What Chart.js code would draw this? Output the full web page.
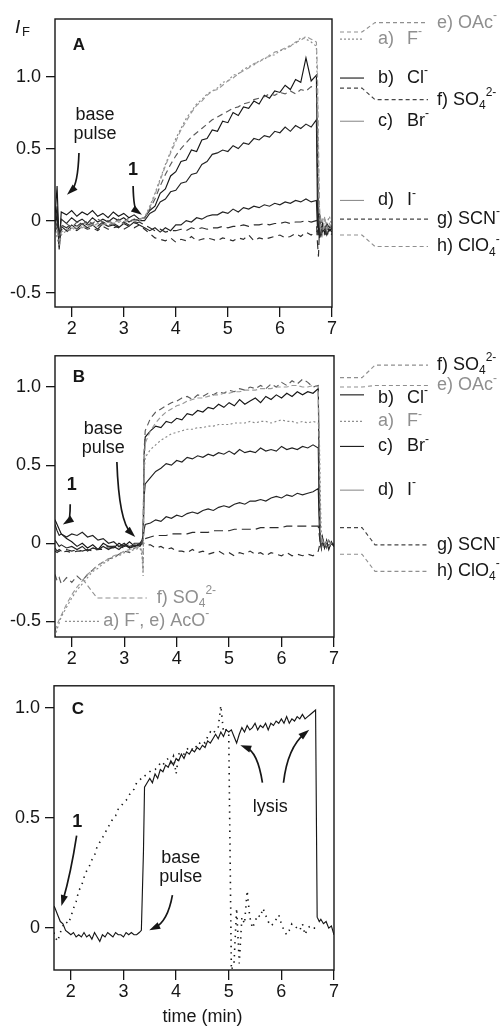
<!DOCTYPE html>
<html>
<head>
<meta charset="utf-8">
<script src="https://cdn.jsdelivr.net/npm/chart.js@4"></script>
<style>
  html, body { margin: 0; padding: 0; background: #fff; }
  #wrap { position: relative; width: 503px; height: 1026px; overflow: hidden; }
  canvas { position: absolute; left: 0; }
</style>
</head>
<body>
<div id="wrap">
  <canvas id="chartA" width="503" height="340" style="top:0px"></canvas>
  <canvas id="chartB" width="503" height="330" style="top:340px"></canvas>
  <canvas id="chartC" width="503" height="356" style="top:670px"></canvas>
</div>
<script>
// ---- axis ticks ----
const X_TICKS = [2, 3, 4, 5, 6, 7];
const Y_TICKS_AB = [-0.5, 0, 0.5, 1.0];
const Y_TICKS_C = [0, 0.5, 1.0];
const Y_TICK_TEXT = { '-0.5': '-0.5', '0': '0', '0.5': '0.5', '1': '1.0' };

// ---- panel A (time in min, I_F) ----
const A_T = [
  1.68, 1.72, 1.76,
  1.8, 1.9, 2.0, 2.1, 2.2, 2.3, 2.4, 2.5, 2.6, 2.7,
  2.8, 2.9, 3.0, 3.1, 3.2, 3.3, 3.4, 3.5, 3.6, 3.7,
  3.8, 3.9, 4.0, 4.1, 4.2, 4.3, 4.4, 4.5, 4.6, 4.7,
  4.8, 4.9, 5.0, 5.1, 5.2, 5.3, 5.4, 5.5, 5.6, 5.7,
  5.8, 5.9, 6.0, 6.1, 6.2, 6.3, 6.4, 6.5, 6.6, 6.7,
  6.72, 6.74, 6.76, 6.78, 6.82, 6.86, 6.9, 6.95, 7.0,
];
const A_F = [
  -0.04, -0.12, -0.18,
  -0.10, -0.07, -0.05, -0.06, -0.04, -0.05, -0.03, -0.04, -0.02, -0.03,
  -0.02, -0.01, -0.02, 0.00, -0.01, 0.00, 0.02, 0.10, 0.19, 0.29,
  0.39, 0.48, 0.57, 0.64, 0.71, 0.76, 0.81, 0.84, 0.88, 0.90,
  0.92, 0.96, 0.97, 1.01, 1.02, 1.05, 1.07, 1.08, 1.11, 1.12,
  1.15, 1.15, 1.18, 1.19, 1.22, 1.23, 1.27, 1.26, 1.24, 1.21,
  0.90, 0.40, 0.05, -0.06, 0.02, -0.05, -0.02, 0.03, -0.04,
];
const A_OAC = [
  -0.02, -0.08, -0.14,
  -0.08, -0.06, -0.07, -0.04, -0.05, -0.03, -0.04, -0.02, -0.03, -0.01,
  -0.02, 0.00, -0.01, 0.01, 0.00, 0.01, 0.02, 0.09, 0.18, 0.28,
  0.38, 0.47, 0.55, 0.63, 0.69, 0.75, 0.80, 0.83, 0.87, 0.90,
  0.91, 0.94, 0.97, 0.99, 1.02, 1.04, 1.06, 1.09, 1.10, 1.13,
  1.14, 1.17, 1.18, 1.20, 1.21, 1.24, 1.25, 1.28, 1.26, 1.24,
  1.05, 0.55, 0.10, -0.04, -0.10, 0.03, -0.06, -0.02, -0.05,
];
const A_CL = [
  0.02, 0.24, -0.18,
  0.06, 0.04, 0.07, 0.03, 0.06, 0.04, 0.07, 0.03, 0.05, 0.02,
  0.06, 0.03, 0.05, 0.02, 0.04, 0.01, 0.02, 0.07, 0.10, 0.19,
  0.22, 0.31, 0.34, 0.41, 0.42, 0.49, 0.48, 0.56, 0.57, 0.63,
  0.62, 0.69, 0.68, 0.75, 0.73, 0.79, 0.78, 0.83, 0.81, 0.87,
  0.85, 0.90, 0.89, 0.94, 0.91, 0.98, 0.96, 1.13, 0.97, 1.01,
  0.40, -0.10, 0.05, -0.08, -0.02, -0.09, -0.04, -0.07, -0.05,
];
const A_SO4 = [
  0.00, -0.05, -0.10,
  -0.04, -0.02, -0.05, -0.01, -0.03, 0.00, -0.02, 0.01, -0.01, 0.00,
  -0.02, 0.01, -0.01, 0.02, 0.00, 0.01, 0.02, 0.08, 0.15, 0.24,
  0.32, 0.39, 0.45, 0.50, 0.54, 0.58, 0.61, 0.64, 0.67, 0.70,
  0.72, 0.74, 0.76, 0.78, 0.79, 0.81, 0.82, 0.84, 0.85, 0.86,
  0.88, 0.87, 0.89, 0.88, 0.90, 0.88, 0.91, 0.90, 0.93, 0.92,
  0.60, 0.10, -0.05, 0.02, -0.06, -0.03, -0.08, -0.04, -0.06,
];
const A_BR = [
  -0.03, 0.10, -0.12,
  0.01, -0.02, 0.02, -0.01, 0.01, -0.02, 0.02, -0.01, 0.01, -0.01,
  0.02, 0.00, 0.02, -0.01, 0.01, 0.00, 0.00, 0.05, 0.07, 0.13,
  0.15, 0.20, 0.21, 0.26, 0.27, 0.32, 0.33, 0.39, 0.41, 0.46,
  0.47, 0.49, 0.48, 0.52, 0.50, 0.54, 0.53, 0.57, 0.56, 0.59,
  0.58, 0.62, 0.61, 0.65, 0.62, 0.66, 0.64, 0.67, 0.65, 0.70,
  0.10, -0.05, 0.02, -0.07, -0.03, -0.06, -0.02, -0.05, -0.04,
];
const A_I = [
  -0.06, 0.05, -0.20,
  -0.04, -0.07, -0.03, -0.06, -0.02, -0.05, -0.03, -0.06, -0.02, -0.04,
  -0.03, -0.05, -0.02, -0.04, -0.01, -0.03, -0.05, -0.07, -0.05, -0.08,
  -0.05, -0.07, -0.03, -0.03, 0.00, -0.01, 0.02, 0.01, 0.03, 0.04,
  0.04, 0.06, 0.05, 0.08, 0.06, 0.09, 0.08, 0.10, 0.09, 0.11,
  0.10, 0.12, 0.11, 0.13, 0.12, 0.14, 0.13, 0.15, 0.13, 0.14,
  -0.05, 0.05, -0.12, -0.03, -0.08, -0.05, -0.10, -0.06, -0.08,
];
const A_SCN = [
  -0.05, -0.02, -0.10,
  -0.03, -0.05, -0.02, -0.04, -0.01, -0.03, -0.02, -0.04, -0.01, -0.03,
  -0.02, -0.04, -0.01, -0.03, -0.02, -0.01, -0.03, -0.05, -0.07, -0.06,
  -0.08, -0.07, -0.07, -0.06, -0.07, -0.05, -0.06, -0.05, -0.06, -0.05,
  -0.05, -0.04, -0.05, -0.04, -0.04, -0.03, -0.04, -0.03, -0.03, -0.02,
  -0.03, -0.02, -0.02, -0.01, -0.02, -0.01, -0.01, 0.00, -0.01, 0.00,
  -0.15, -0.25, -0.05, -0.12, -0.06, -0.09, -0.05, -0.08, -0.06,
];
const A_CLO4 = [
  -0.08, -0.04, -0.12,
  -0.06, -0.08, -0.05, -0.07, -0.04, -0.06, -0.05, -0.07, -0.04, -0.06,
  -0.05, -0.04, -0.06, -0.04, -0.05, -0.03, -0.06, -0.09, -0.12, -0.13,
  -0.14, -0.12, -0.15, -0.13, -0.14, -0.11, -0.14, -0.13, -0.12, -0.13,
  -0.14, -0.12, -0.13, -0.14, -0.12, -0.13, -0.10, -0.14, -0.12, -0.13,
  -0.12, -0.11, -0.10, -0.12, -0.11, -0.09, -0.11, -0.08, -0.10, -0.08,
  -0.07, -0.12, -0.06, -0.10, -0.07, -0.10, -0.08, -0.11, -0.09,
];

// ---- panel B ----
const B_T = [
  1.68, 1.72, 1.76,
  1.8, 1.9, 2.0, 2.1, 2.2, 2.3, 2.4, 2.5, 2.6, 2.7,
  2.8, 2.9, 3.0, 3.1, 3.2, 3.3, 3.34, 3.36, 3.38, 3.4,
  3.5, 3.6, 3.7, 3.8, 3.9, 4.0, 4.1, 4.2, 4.3, 4.4,
  4.5, 4.6, 4.7, 4.8, 4.9, 5.0, 5.1, 5.2, 5.3, 5.4,
  5.5, 5.6, 5.7, 5.8, 5.9, 6.0, 6.1, 6.2, 6.3, 6.4,
  6.5, 6.6, 6.7, 6.72, 6.74, 6.76, 6.78, 6.82, 6.86, 6.9, 6.95, 7.0,
];
const B_F = [
  -0.60, -0.55, -0.51,
  -0.47, -0.41, -0.35, -0.30, -0.26, -0.22, -0.18, -0.16, -0.13, -0.11,
  -0.09, -0.08, -0.06, -0.05, -0.04, -0.03, -0.08, -0.21, 0.45, 0.55,
  0.60, 0.63, 0.66, 0.68, 0.70, 0.71, 0.72, 0.73, 0.73, 0.74,
  0.74, 0.75, 0.75, 0.76, 0.76, 0.76, 0.77, 0.77, 0.77, 0.78,
  0.77, 0.78, 0.78, 0.77, 0.78, 0.79, 0.78, 0.78, 0.77, 0.78,
  0.77, 0.78, 0.77, 0.70, 0.30, 0.02, 0.00, 0.01, -0.01, 0.02, 0.00, -0.01,
];
const B_OAC = [
  -0.56, -0.52, -0.49,
  -0.46, -0.39, -0.33, -0.28, -0.24, -0.20, -0.17, -0.14, -0.12, -0.10,
  -0.08, -0.07, -0.05, -0.04, -0.03, -0.02, -0.05, -0.18, 0.50, 0.64,
  0.72, 0.77, 0.81, 0.84, 0.86, 0.88, 0.89, 0.91, 0.92, 0.93,
  0.93, 0.94, 0.95, 0.95, 0.96, 0.96, 0.97, 0.97, 0.98, 0.98,
  0.98, 0.99, 0.99, 0.99, 1.00, 1.00, 1.00, 1.01, 1.01, 1.00,
  1.00, 1.01, 1.00, 0.60, 0.10, 0.00, 0.02, -0.01, 0.01, -0.02, 0.00, -0.01,
];
const B_CL = [
  0.15, 0.12, 0.09,
  0.06, 0.03, 0.01, -0.02, 0.00, -0.03, -0.01, -0.04, 0.00, -0.02,
  -0.03, 0.00, -0.02, 0.01, -0.02, 0.00, 0.02, 0.05, 0.55, 0.68,
  0.72, 0.75, 0.74, 0.78, 0.77, 0.80, 0.79, 0.83, 0.82, 0.85,
  0.84, 0.87, 0.86, 0.89, 0.87, 0.90, 0.88, 0.92, 0.89, 0.91,
  0.93, 0.90, 0.94, 0.92, 0.95, 0.93, 0.96, 0.94, 0.97, 0.95,
  0.97, 0.96, 0.99, 0.30, 0.03, -0.02, 0.04, -0.03, 0.02, -0.04, 0.01, -0.02,
];
const B_SO4 = [
  -0.20, -0.24, -0.22,
  -0.26, -0.22, -0.25, -0.21, -0.24, -0.20, -0.17, -0.14, -0.12, -0.10,
  -0.09, -0.07, -0.05, -0.06, -0.03, -0.02, -0.01, 0.10, 0.60, 0.72,
  0.80, 0.84, 0.86, 0.88, 0.90, 0.91, 0.93, 0.94, 0.92, 0.95,
  0.94, 0.96, 0.95, 0.97, 0.96, 0.98, 0.97, 0.99, 0.98, 1.00,
  0.99, 1.01, 0.99, 1.02, 1.00, 1.03, 1.01, 1.04, 1.02, 1.05,
  1.03, 1.00, 1.01, 0.40, 0.05, -0.02, 0.03, 0.00, -0.03, 0.02, -0.01, 0.00,
];
const B_BR = [
  0.12, 0.08, 0.05,
  0.06, 0.04, 0.06, 0.05, 0.07, 0.04, 0.05, 0.02, 0.03, 0.00,
  0.01, -0.02, 0.00, -0.03, -0.01, -0.02, 0.00, 0.03, 0.30, 0.38,
  0.42, 0.46, 0.48, 0.51, 0.50, 0.53, 0.52, 0.55, 0.54, 0.56,
  0.55, 0.57, 0.56, 0.58, 0.57, 0.59, 0.57, 0.60, 0.58, 0.59,
  0.58, 0.61, 0.59, 0.60, 0.59, 0.62, 0.60, 0.61, 0.60, 0.62,
  0.61, 0.63, 0.61, 0.20, 0.02, -0.03, 0.03, -0.02, 0.01, -0.03, 0.00, -0.02,
];
const B_I = [
  0.02, 0.00, -0.02,
  -0.01, -0.03, -0.02, -0.04, -0.02, -0.05, -0.03, -0.04, -0.02, -0.04,
  -0.02, -0.04, -0.01, -0.03, -0.02, -0.01, 0.00, 0.02, 0.09, 0.12,
  0.13, 0.15, 0.14, 0.17, 0.16, 0.18, 0.17, 0.19, 0.20, 0.19,
  0.21, 0.22, 0.21, 0.23, 0.24, 0.23, 0.25, 0.26, 0.25, 0.27,
  0.27, 0.28, 0.27, 0.29, 0.30, 0.29, 0.31, 0.30, 0.32, 0.31,
  0.32, 0.33, 0.35, 0.10, 0.00, -0.03, 0.02, -0.02, 0.01, -0.03, 0.00, -0.01,
];
const B_SCN = [
  -0.03, -0.05, -0.04,
  -0.05, -0.04, -0.05, -0.04, -0.05, -0.04, -0.03, -0.04, -0.03, -0.02,
  -0.02, -0.01, -0.02, -0.01, 0.00, 0.00, 0.01, 0.02, 0.03, 0.03,
  0.04, 0.05, 0.05, 0.05, 0.06, 0.06, 0.06, 0.06, 0.07, 0.07,
  0.07, 0.07, 0.08, 0.08, 0.08, 0.08, 0.09, 0.09, 0.09, 0.09,
  0.09, 0.10, 0.10, 0.10, 0.10, 0.10, 0.11, 0.11, 0.11, 0.11,
  0.11, 0.11, 0.11, 0.05, 0.00, -0.01, 0.01, -0.02, 0.00, -0.01, 0.00, -0.01,
];
const B_CLO4 = [
  -0.05, -0.06, -0.05,
  -0.06, -0.05, -0.06, -0.05, -0.05, -0.04, -0.05, -0.04, -0.04, -0.03,
  -0.03, -0.02, -0.03, -0.02, -0.01, -0.01, 0.00, 0.00, 0.00, -0.01,
  -0.01, -0.03, -0.02, -0.04, -0.03, -0.05, -0.05, -0.06, -0.04, -0.06,
  -0.05, -0.07, -0.06, -0.05, -0.07, -0.06, -0.08, -0.06, -0.07, -0.05,
  -0.07, -0.06, -0.08, -0.06, -0.07, -0.08, -0.06, -0.08, -0.07, -0.08,
  -0.07, -0.08, -0.05, -0.02, 0.01, -0.02, 0.00, -0.03, 0.01, -0.02, 0.00, -0.01,
];

// ---- panel C ----
const C_T = [
  1.68, 1.70, 1.75, 1.80, 1.85, 1.90, 1.95, 2.00, 2.05, 2.10,
  2.15, 2.20, 2.25, 2.30, 2.35, 2.40, 2.45, 2.50, 2.55, 2.60,
  2.65, 2.70, 2.75, 2.80, 2.85, 2.90, 2.95, 3.00, 3.05, 3.10,
  3.15, 3.20, 3.25, 3.30, 3.34, 3.38, 3.40, 3.45, 3.50, 3.55,
  3.60, 3.65, 3.70, 3.75, 3.80, 3.85, 3.90, 3.95, 4.00, 4.05,
  4.10, 4.15, 4.20, 4.25, 4.30, 4.35, 4.40, 4.45, 4.50, 4.55,
  4.60, 4.65, 4.70, 4.75, 4.80, 4.85, 4.90, 4.95, 5.00, 5.05,
  5.10, 5.15, 5.20, 5.25, 5.30, 5.35, 5.40, 5.45, 5.50, 5.55,
  5.60, 5.65, 5.70, 5.75, 5.80, 5.85, 5.90, 5.95, 6.00, 6.05,
  6.10, 6.15, 6.20, 6.25, 6.30, 6.35, 6.40, 6.45, 6.50, 6.55,
  6.60, 6.65, 6.68, 6.70, 6.72, 6.75, 6.80, 6.85, 6.90, 6.95,
  7.00,
];
const C_SOLID = [
  0.10, 0.09, 0.06, 0.03, 0.02, -0.01, -0.02, -0.03, -0.02, -0.04,
  -0.03, -0.04, -0.02, -0.04, -0.03, -0.05, -0.02, -0.04, -0.06, -0.03,
  -0.04, -0.02, -0.03, -0.04, -0.02, -0.03, -0.03, -0.04, -0.02, -0.03,
  -0.02, -0.03, -0.03, -0.02, -0.01, 0.35, 0.64, 0.66, 0.68, 0.66,
  0.70, 0.68, 0.72, 0.71, 0.74, 0.73, 0.76, 0.74, 0.77, 0.76,
  0.79, 0.77, 0.80, 0.79, 0.81, 0.80, 0.82, 0.81, 0.83, 0.82,
  0.85, 0.84, 0.86, 0.88, 0.86, 0.89, 0.87, 0.90, 0.89, 0.90,
  0.87, 0.84, 0.88, 0.91, 0.89, 0.92, 0.90, 0.91, 0.93, 0.90,
  0.92, 0.91, 0.93, 0.90, 0.93, 0.92, 0.94, 0.93, 0.95, 0.93,
  0.96, 0.93, 0.95, 0.94, 0.96, 0.95, 0.97, 0.95, 0.96, 0.97,
  0.98, 0.99, 0.05, 0.04, 0.03, 0.04, 0.02, 0.03, 0.00, 0.01,
  -0.03,
];
const C_DOTTED = [
  -0.02, -0.04, -0.06, -0.02, 0.01, 0.03, 0.02, 0.05, 0.09, 0.12,
  0.17, 0.19, 0.23, 0.26, 0.28, 0.31, 0.33, 0.37, 0.39, 0.41,
  0.43, 0.46, 0.47, 0.50, 0.51, 0.54, 0.55, 0.57, 0.58, 0.60,
  0.62, 0.63, 0.66, 0.67, 0.68, 0.68, 0.69, 0.70, 0.71, 0.72,
  0.72, 0.73, 0.75, 0.74, 0.76, 0.77, 0.75, 0.78, 0.70, 0.79,
  0.80, 0.79, 0.81, 0.82, 0.81, 0.83, 0.82, 0.84, 0.85, 0.84,
  0.87, 0.89, 0.88, 0.90, 0.91, 1.01, 0.89, 0.90, 0.88, -0.19,
  -0.16, 0.09, -0.16, 0.05, 0.02, 0.17, 0.05, 0.00, 0.03, 0.06,
  0.05, 0.09, 0.06, 0.03, 0.01, 0.02, 0.04, 0.06, 0.02, -0.01,
  -0.03, -0.01, 0.02, 0.01, 0.00, -0.01, 0.02, -0.03, 0.00, 0.01,
  0.00, 0.00, 0.01, null, null, null, null, null, null, null,
  null,
];

// ---- look ----
const FONT = '"Liberation Sans", Arial, Helvetica, sans-serif';
const INK = '#161616';
const GREY = '#8f8f8f';
const MID = '#454545';

const STYLE = {
  F:    { color: '#8a8a8a', dash: [2, 2.5] },
  OAc:  { color: '#9a9a9a', dash: [5, 3] },
  Cl:   { color: INK, dash: [] },
  SO4:  { color: '#5a5a5a', dash: [6, 4] },
  Br:   { color: '#222', dash: [] },
  I:    { color: '#222', dash: [] },
  SCN:  { color: '#2c2c2c', dash: [9, 5] },
  ClO4: { color: '#2c2c2c', dash: [6, 5] },
  solid:  { color: INK, dash: [] },
  dotted: { color: INK, dash: [1.4, 5], width: 1.6 },
};

Chart.defaults.font.family = FONT;
Chart.defaults.font.size = 18;
Chart.defaults.color = INK;

const SUP = t => ({ t, sup: true });
const SUB = t => ({ t, sub: true });

function text(ctx, x, y, s, font, color, align) {
  ctx.save();
  ctx.font = font; ctx.fillStyle = color;
  ctx.textAlign = align || 'left'; ctx.textBaseline = 'middle';
  ctx.fillText(s, x, y);
  ctx.restore();
}

// text with sub/superscripts, left aligned, vertically centred on y
function rich(ctx, x, y, parts, color, size) {
  ctx.save();
  ctx.fillStyle = color; ctx.textBaseline = 'middle'; ctx.textAlign = 'left';
  let cx = x;
  for (const p of parts) {
    const s = typeof p === 'string' ? { t: p } : p;
    const fs = (s.sub || s.sup) ? Math.round(size * 0.68) : size;
    const dy = s.sub ? size * 0.32 : s.sup ? -size * 0.4 : 0;
    ctx.font = fs + 'px ' + FONT;
    ctx.fillText(s.t, cx, y + dy);
    cx += ctx.measureText(s.t).width;
  }
  ctx.restore();
}

function path(ctx, pts, color, dash) {
  ctx.save();
  ctx.strokeStyle = color; ctx.lineWidth = 1.1; ctx.setLineDash(dash);
  ctx.beginPath();
  pts.forEach((p, i) => i ? ctx.lineTo(p[0], p[1]) : ctx.moveTo(p[0], p[1]));
  ctx.stroke();
  ctx.restore();
}

function arrow(ctx, x0, y0, cx, cy, x1, y1) {
  ctx.save();
  ctx.strokeStyle = INK; ctx.fillStyle = INK; ctx.lineWidth = 1.7;
  const a = Math.atan2(y1 - cy, x1 - cx);
  const L = 11, W = 3.6;
  ctx.beginPath(); ctx.moveTo(x0, y0);
  ctx.quadraticCurveTo(cx, cy, x1 - 6 * Math.cos(a), y1 - 6 * Math.sin(a));
  ctx.stroke();
  ctx.beginPath();
  ctx.moveTo(x1, y1);
  ctx.lineTo(x1 - L * Math.cos(a) + W * Math.sin(a), y1 - L * Math.sin(a) - W * Math.cos(a));
  ctx.lineTo(x1 - L * Math.cos(a) - W * Math.sin(a), y1 - L * Math.sin(a) + W * Math.cos(a));
  ctx.closePath(); ctx.fill();
  ctx.restore();
}

// right-hand key: a short stub, or a stub with an elbow leading to the label
function drawKey(ctx, Y, k) {
  const y0 = Y(k.line), y1 = Y(k.text);
  if (k.elbow) {
    path(ctx, [[340, y0], [362, y0], [375, y1], [428, y1]], k.color, k.dash);
    rich(ctx, 437, y1, k.parts, k.tc, 18);
  } else {
    path(ctx, [[340, y0], [364, y0]], k.color, k.dash);
    rich(ctx, 378, y1, [k.tag], k.tc, 18);
    rich(ctx, 407, y1, k.parts, k.tc, 18);
  }
}

function makeDecor(p) {
  return {
    id: 'decor' + p.letter,
    afterDraw(chart) {
      const ctx = chart.ctx;
      const a = chart.chartArea;
      const X = v => chart.scales.x.getPixelForValue(v);
      const Y = v => chart.scales.y.getPixelForValue(v);
      ctx.save();
      ctx.strokeStyle = INK; ctx.lineWidth = 1.4;
      ctx.strokeRect(a.left, a.top, a.right - a.left, a.bottom - a.top);
      ctx.restore();
      text(ctx, a.left + 24, a.top + p.letterDy, p.letter, 'bold 17px ' + FONT, INK, 'center');
      p.notes.forEach(n => text(ctx, X(n.x), Y(n.y), n.t, (n.bold ? 'bold ' : '') + '18px ' + FONT, INK, 'center'));
      p.arrows.forEach(r => arrow(ctx, X(r[0]), Y(r[1]), X(r[2]), Y(r[3]), X(r[4]), Y(r[5])));
      p.keys.forEach(k => drawKey(ctx, Y, k));
      if (p.extra) p.extra(ctx, X, Y, a);
    },
  };
}

function makePanel(id, p) {
  const datasets = p.series.map(s => ({
    data: p.T.map((t, i) => ({ x: t, y: s.vals[i] })),
    borderColor: s.st.color,
    borderDash: s.st.dash,
    borderWidth: s.st.width || 1.15,
    pointRadius: 0,
    tension: 0,
    fill: false,
  }));
  const tickGrid = len => ({ drawOnChartArea: false, drawTicks: true, tickLength: len, color: INK, lineWidth: 1.3 });
  return new Chart(document.getElementById(id), {
    type: 'line',
    data: { datasets },
    plugins: [makeDecor(p)],
    options: {
      responsive: false,
      animation: false,
      devicePixelRatio: 1,
      events: [],
      layout: { padding: { top: p.padTop, right: p.padRight, left: 0, bottom: 0 } },
      plugins: { legend: { display: false }, tooltip: { enabled: false } },
      scales: {
        x: {
          type: 'linear', min: 1.68, max: 7,
          afterBuildTicks: s => { s.ticks = X_TICKS.map(v => ({ value: v })); },
          afterFit: s => { s.height = p.xHeight; },
          grid: tickGrid(10),
          border: { display: false },
          ticks: { padding: 1, maxRotation: 0, autoSkip: false, color: INK, font: { size: 18 }, callback: v => String(v) },
        },
        y: {
          type: 'linear', min: p.yMin, max: p.yMax,
          afterBuildTicks: s => { s.ticks = p.yTicks.map(v => ({ value: v })); },
          afterFit: s => { s.width = p.yWidth; },
          grid: tickGrid(9),
          border: { display: false },
          ticks: { padding: 5, autoSkip: false, color: INK, font: { size: 18 }, callback: v => Y_TICK_TEXT[String(v)] },
        },
      },
    },
  });
}

const OAC_TXT = ['e) OAc', SUP('-')];
const SO4_TXT = ['f) SO', SUB('4'), SUP('2-')];
const SCN_TXT = ['g) SCN', SUP('-')];
const CLO4_TXT = ['h) ClO', SUB('4'), SUP('-')];

makePanel('chartA', {
  letter: 'A', letterDy: 26,
  T: A_T,
  series: [
    { vals: A_OAC, st: STYLE.OAc }, { vals: A_F, st: STYLE.F },
    { vals: A_SO4, st: STYLE.SO4 }, { vals: A_CLO4, st: STYLE.ClO4 },
    { vals: A_SCN, st: STYLE.SCN }, { vals: A_I, st: STYLE.I },
    { vals: A_BR, st: STYLE.Br }, { vals: A_CL, st: STYLE.Cl },
  ],
  yMin: -0.6, yMax: 1.4, yTicks: Y_TICKS_AB,
  padTop: 19, padRight: 171, yWidth: 55, xHeight: 33,
  notes: [
    { t: 'base', x: 2.45, y: 0.73 }, { t: 'pulse', x: 2.45, y: 0.60 },
    { t: '1', x: 3.18, y: 0.35, bold: true },
  ],
  arrows: [
    [2.14, 0.47, 2.12, 0.25, 1.91, 0.18],
    [3.18, 0.24, 3.19, 0.08, 3.35, 0.04],
  ],
  keys: [
    { line: 1.31, text: 1.375, elbow: true, parts: OAC_TXT, color: GREY, tc: GREY, dash: [4, 3] },
    { line: 1.26, text: 1.26, tag: 'a)', parts: ['F', SUP('-')], color: GREY, tc: GREY, dash: [2, 2] },
    { line: 0.99, text: 0.99, tag: 'b)', parts: ['Cl', SUP('-')], color: INK, tc: INK, dash: [] },
    { line: 0.92, text: 0.84, elbow: true, parts: SO4_TXT, color: MID, tc: INK, dash: [4, 3] },
    { line: 0.69, text: 0.69, tag: 'c)', parts: ['Br', SUP('-')], color: GREY, tc: INK, dash: [] },
    { line: 0.14, text: 0.14, tag: 'd)', parts: ['I', SUP('-')], color: GREY, tc: INK, dash: [] },
    { line: 0.01, text: 0.01, elbow: true, parts: SCN_TXT, color: MID, tc: INK, dash: [4, 3] },
    { line: -0.10, text: -0.18, elbow: true, parts: CLO4_TXT, color: GREY, tc: INK, dash: [4, 3] },
  ],
  extra(ctx) {
    text(ctx, 15, 28, 'I', 'italic 19px ' + FONT, INK, 'left');
    text(ctx, 22, 32, 'F', '13px ' + FONT, INK, 'left');
  },
});

makePanel('chartB', {
  letter: 'B', letterDy: 22,
  T: B_T,
  series: [
    { vals: B_F, st: STYLE.F }, { vals: B_OAC, st: STYLE.OAc },
    { vals: B_SO4, st: STYLE.SO4 }, { vals: B_CLO4, st: STYLE.ClO4 },
    { vals: B_SCN, st: STYLE.SCN }, { vals: B_I, st: STYLE.I },
    { vals: B_BR, st: STYLE.Br }, { vals: B_CL, st: STYLE.Cl },
  ],
  yMin: -0.6, yMax: 1.2, yTicks: Y_TICKS_AB,
  padTop: 12, padRight: 169, yWidth: 55, xHeight: 33,
  notes: [
    { t: 'base', x: 2.60, y: 0.73 }, { t: 'pulse', x: 2.60, y: 0.61 },
    { t: '1', x: 2.0, y: 0.37, bold: true },
  ],
  arrows: [
    [1.97, 0.25, 1.97, 0.15, 1.83, 0.12],
    [2.86, 0.52, 2.90, 0.14, 3.21, 0.04],
  ],
  keys: [
    { line: 1.06, text: 1.14, elbow: true, parts: SO4_TXT, color: GREY, tc: INK, dash: [4, 3] },
    { line: 1.00, text: 1.01, elbow: true, parts: OAC_TXT, color: GREY, tc: GREY, dash: [4, 3] },
    { line: 0.95, text: 0.93, tag: 'b)', parts: ['Cl', SUP('-')], color: INK, tc: INK, dash: [] },
    { line: 0.78, text: 0.78, tag: 'a)', parts: ['F', SUP('-')], color: GREY, tc: GREY, dash: [2, 2] },
    { line: 0.62, text: 0.62, tag: 'c)', parts: ['Br', SUP('-')], color: INK, tc: INK, dash: [] },
    { line: 0.34, text: 0.34, tag: 'd)', parts: ['I', SUP('-')], color: GREY, tc: INK, dash: [] },
    { line: 0.10, text: -0.01, elbow: true, parts: SCN_TXT, color: MID, tc: INK, dash: [4, 3] },
    { line: -0.07, text: -0.18, elbow: true, parts: CLO4_TXT, color: GREY, tc: INK, dash: [4, 3] },
  ],
  extra(ctx, X, Y) {
    // in-plot labels for the curves that start below zero
    path(ctx, [[X(2.21), Y(-0.23)], [X(2.48), Y(-0.35)], [X(3.43), Y(-0.35)]], GREY, [5, 3]);
    rich(ctx, X(3.62), Y(-0.35), SO4_TXT, GREY, 18);
    path(ctx, [[X(1.87), Y(-0.50)], [X(2.54), Y(-0.50)]], GREY, [2, 2]);
    rich(ctx, X(2.60), Y(-0.50), ['a) F', SUP('-'), ', e) AcO', SUP('-')], GREY, 18);
  },
});

makePanel('chartC', {
  letter: 'C', letterDy: 24,
  T: C_T,
  series: [
    { vals: C_DOTTED, st: STYLE.dotted },
    { vals: C_SOLID, st: STYLE.solid },
  ],
  yMin: -0.19, yMax: 1.1, yTicks: Y_TICKS_C,
  padTop: 13, padRight: 169, yWidth: 54, xHeight: 56,
  notes: [
    { t: '1', x: 2.12, y: 0.48, bold: true },
    { t: 'base', x: 4.09, y: 0.32 }, { t: 'pulse', x: 4.09, y: 0.23 },
    { t: 'lysis', x: 5.79, y: 0.55 },
  ],
  arrows: [
    [2.11, 0.42, 2.00, 0.25, 1.82, 0.10],
    [3.93, 0.15, 3.84, 0.03, 3.49, -0.01],
    [5.64, 0.66, 5.55, 0.80, 5.22, 0.83],
    [6.04, 0.66, 6.12, 0.82, 6.53, 0.90],
  ],
  keys: [],
  extra(ctx, X) {
    text(ctx, X(4.5), 347, 'time (min)', '18px ' + FONT, INK, 'center');
  },
});
</script>
</body>
</html>
